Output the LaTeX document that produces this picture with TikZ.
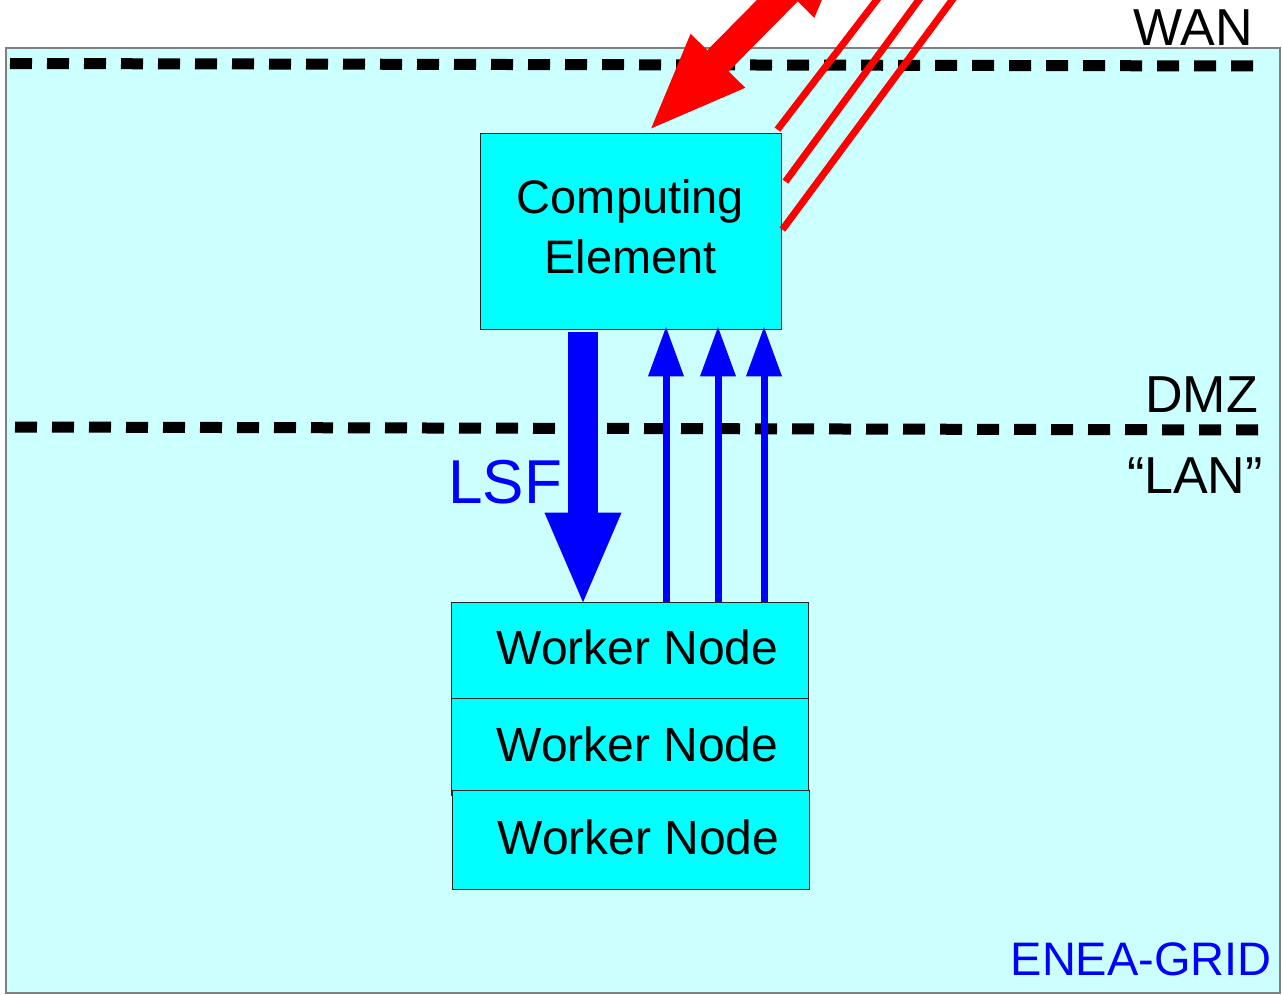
\documentclass[tikz,border=0pt]{standalone}
\usepackage{fontspec}
\setmainfont{Liberation Sans}
\usetikzlibrary{arrows.meta}
\definecolor{gridbg}{HTML}{CCFFFF}
\definecolor{boxcyan}{HTML}{00FFFF}
\begin{document}
\begin{tikzpicture}[x=1pt, y=-1pt,
    box/.style={draw=black!85, line width=0.8pt, fill=boxcyan, inner sep=0pt},
    worker/.style={box, minimum width=357pt, text depth=5pt, font=\fontsize{48}{56}\selectfont},
    border/.style={black, line width=11pt, dash pattern=on 22pt off 15pt},
    tag/.style={anchor=base east, inner sep=0pt, font=\fontsize{52}{60}\selectfont},
    uparrow/.style={-{Triangle[width=34pt,length=50pt]}, blue, line width=7pt, shorten >=-3pt}]
  \useasboundingbox (0,0) rectangle (1282,994);
  \clip (0,0) rectangle (1282,994);
  % grid area and the two network borders
  \draw[gray, line width=1.5pt, fill=gridbg] (6,48) rectangle (1280,993);
  \draw[border] (10,63.5) -- (1258,66);
  \draw[border] (15,427) -- (1262,430);
  \node[tag] (wan) at (1253,45) {WAN};
  \node[tag] (dmz) at (1258,412) {DMZ};
  \node[tag] (lan) at (1263,493) {“LAN”};
  \node[tag, text=blue, font=\fontsize{47}{56}\selectfont] (grid) at (1272,975) {ENEA-GRID};

  % boxes
  \node[box, minimum width=301pt, minimum height=196pt, align=center, text depth=10pt,
        font=\fontsize{47}{60}\selectfont] (ce) at (630.5,231) {Computing\\Element};
  \node[worker, minimum height=96pt] (wn1) at (629.5,650) {\hspace*{16pt}Worker Node};
  \node[worker, minimum height=97pt] (wn2) at (629.5,746.5) {\hspace*{16pt}Worker Node};
  \node[worker, minimum height=99pt] (wn3) at (630.5,839.5) {\hspace*{16pt}Worker Node};

  % LSF submission down, job traffic back up
  \coordinate (lsf) at ([xshift=-47.5pt,yshift=-3pt]ce.south);
  \draw[-{Triangle[width=69pt,length=94pt]}, blue, line width=30pt, shorten >=-5pt] (lsf) -- (lsf |- wn1.north);
  \node[anchor=base west, inner sep=0pt, text=blue, font=\fontsize{62}{70}\selectfont] (lsflab) at (448,503) {LSF};
  \foreach \dx/\name in {35.5/up1, 87.5/up2, 133.5/up3} {
    \coordinate (\name) at ([xshift=\dx pt]ce.south);
    \draw[uparrow] (\name |- wn1.north) -- (\name);
  }

  % WAN side
  \coordinate (inet) at (858,-81);
  \draw[{Triangle[width=68pt,length=101pt]}-{Triangle[width=68pt,length=101pt]}, red, line width=30pt]
    (inet) -- ([xshift=16.5pt]ce.north);
  \coordinate (r1) at (892,-20);
  \coordinate (r2) at (933.5,-20);
  \coordinate (r3) at (967,-20);
  \draw[red, line width=7pt] ([xshift=-4pt,yshift=3pt]ce.north east) -- (r1);
  \draw[red, line width=7pt] ([xshift=4pt,yshift=-49pt]ce.north east) -- (r2);
  \draw[red, line width=7pt] ([xshift=1pt,yshift=-97pt]ce.north east) -- (r3);
\end{tikzpicture}
\end{document}
